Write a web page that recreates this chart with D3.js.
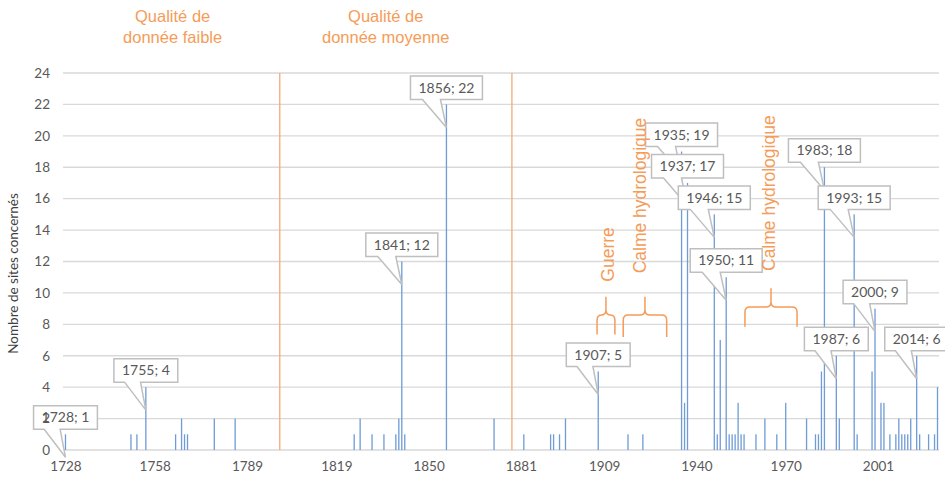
<!DOCTYPE html>
<html>
<head>
<meta charset="utf-8">
<script src="https://cdn.jsdelivr.net/npm/d3@7"></script>
<style>
  body { margin: 0; background: #fff; }
  svg { display: block; }
</style>
</head>
<body>
<div id="chart"></div>
<script>
// years with at least one site concerned, and the number of sites
const years = [1728,1750,1752,1755,1765,1767,1768,1769,1778,1785,
  1825,1827,1831,1835,1839,1840,1841,1842,1856,1872,
  1882,1891,1892,1894,1896,1907,1917,1922,1935,1936,1937,
  1946,1947,1948,1950,1951,1952,1953,1954,1955,1956,1960,1963,1967,1970,
  1977,1980,1981,1982,1983,1987,1988,1993,1994,1999,2000,2002,2003,
  2005,2007,2008,2009,2010,2011,2012,2014,2015,2018,2020,2021];
const sites = [1,1,1,4,1,2,1,1,2,2,
  1,2,1,1,1,2,12,1,22,2,
  1,1,1,1,2,5,1,1,19,3,17,
  15,1,7,11,1,1,1,3,1,1,1,2,1,3,
  2,1,1,5,18,6,2,15,1,5,9,3,3,
  1,1,2,1,1,1,2,6,1,1,1,4];

// bars that carry a callout label "year; value"
const labelled = [1728,1755,1841,1856,1907,1935,1937,1946,1950,1983,1987,1993,2000,2014];

const xTicks = [1728,1758,1789,1819,1850,1881,1909,1940,1970,2001];
const yTicks = [0,2,4,6,8,10,12,14,16,18,20,22,24];

// data quality limits (years)
const limits = [1800, 1878];
const qualityLabels = [
  {year: 1764, lines: ["Qualité de", "donnée faible"]},
  {year: 1835.6, lines: ["Qualité de", "donnée moyenne"]}
];
// braces and rotated notes, in year / value units
const braces = [
  {x0: 1906.6, x1: 1912.6, top: 9.75, mid: 8.6, bot: 7.35},
  {x0: 1915.4, x1: 1930, top: 9.75, mid: 8.6, bot: 7.2},
  {x0: 1956.3, x1: 1973.8, top: 10.3, mid: 9.1, bot: 7.85}
];
const notes = [
  {text: "Guerre", year: 1910.3, value: 12.45},
  {text: "Calme hydrologique", year: 1921, value: 16.2},
  {text: "Calme hydrologique", year: 1964.2, value: 16.35}
];

const data = years.map(function(y, i) { return {year: y, value: sites[i]}; });

const W = 945, H = 480;
const margin = {top: 73, right: 6, bottom: 30, left: 64};
const width = W - margin.left - margin.right;
const height = H - margin.top - margin.bottom;

const orange = "#f59c58";
const grey = "#595959";

const svg = d3.select("#chart").append("svg")
    .attr("width", W)
    .attr("height", H);

const chart = svg.append("g")
    .attr("transform", "translate(" + margin.left + "," + margin.top + ")");

const x = d3.scaleLinear()
    .domain([1727.5, 2021.5])
    .range([0, width]);

const y = d3.scaleLinear()
    .domain([0, 24])
    .range([height, 0]);

// gridlines
chart.append("g")
  .selectAll("line")
  .data(yTicks)
  .enter().append("line")
    .attr("x1", -1)
    .attr("x2", width)
    .attr("y1", function(d) { return y(d); })
    .attr("y2", function(d) { return y(d); })
    .attr("stroke", "#d9d9d9")
    .attr("stroke-width", 1.3);

// quality limits
chart.append("g")
  .selectAll("line")
  .data(limits)
  .enter().append("line")
    .attr("x1", function(d) { return x(d); })
    .attr("x2", function(d) { return x(d); })
    .attr("y1", y(24))
    .attr("y2", y(0))
    .attr("stroke", "#f7a872")
    .attr("stroke-width", 1.3);

// bars
chart.append("g")
  .selectAll("rect")
  .data(data)
  .enter().append("rect")
    .attr("x", function(d) { return x(d.year) - 0.65; })
    .attr("y", function(d) { return y(d.value); })
    .attr("width", 1.3)
    .attr("height", function(d) { return y(0) - y(d.value); })
    .attr("fill", "#6f9bd6");

// x axis labels
const xAxis = chart.append("g")
    .attr("transform", "translate(0," + height + ")")
    .call(d3.axisBottom(x).tickValues(xTicks).tickFormat(d3.format("d")).tickSize(0).tickPadding(11));
xAxis.select(".domain").remove();
xAxis.selectAll("text")
    .attr("font-family", "Lato, 'Open Sans', sans-serif")
    .attr("font-size", 13.5)
    .attr("fill", grey);

// callouts
const callouts = chart.append("g")
  .selectAll("g")
  .data(data.filter(function(d) { return labelled.indexOf(d.year) >= 0; }))
  .enter().append("g");

callouts.each(function(d) {
  const g = d3.select(this);
  const cx = x(d.year);
  const top = y(d.value);
  const t = g.append("text")
      .attr("x", cx)
      .attr("y", top - 5 - 11.75)
      .attr("dy", "0.35em")
      .attr("text-anchor", "middle")
      .attr("font-family", "Lato, 'Open Sans', sans-serif")
      .attr("font-size", 14)
      .attr("fill", grey)
      .text(d.year + "; " + d.value);
  const w = t.node().getComputedTextLength() + 16;
  const l = cx - w / 2, r = cx + w / 2;
  const b = top - 5, tp = b - 23.5;
  const tipY = top + 23;
  const p = d3.path();
  p.moveTo(l, tp);
  p.lineTo(r, tp);
  p.lineTo(r, b);
  p.lineTo(l + w * 5 / 12, b);
  p.lineTo(cx, tipY);
  p.lineTo(l + w * 2 / 12, b);
  p.lineTo(l, b);
  p.closePath();
  g.insert("path", "text")
      .attr("d", p.toString())
      .attr("fill", "#fff")
      .attr("stroke", "#bfbfbf")
      .attr("stroke-width", 1.5);
});

// y axis labels (drawn over the callouts, as in the original)
const yAxis = chart.append("g")
    .call(d3.axisLeft(y).tickValues(yTicks).tickSize(0).tickPadding(14));
yAxis.select(".domain").remove();
yAxis.selectAll("text")
    .attr("font-family", "Lato, 'Open Sans', sans-serif")
    .attr("font-size", 13.5)
    .attr("fill", grey);

chart.append("text")
    .attr("transform", "rotate(-90)")
    .attr("x", -(y(12) + 12))
    .attr("y", -46)
    .attr("text-anchor", "middle")
    .attr("font-family", "Lato, 'Open Sans', sans-serif")
    .attr("font-size", 13.5)
    .attr("fill", "#404040")
    .text("Nombre de sites concernés");

// quality labels above the plot
const ql = svg.append("g")
  .selectAll("text")
  .data(qualityLabels)
  .enter().append("text")
    .attr("text-anchor", "middle")
    .attr("font-family", "'Liberation Sans', Arial, sans-serif")
    .attr("font-size", 16.5)
    .attr("fill", orange);
ql.selectAll("tspan")
  .data(function(d) { return d.lines.map(function(s) { return {s: s, year: d.year}; }); })
  .enter().append("tspan")
    .attr("x", function(d) { return margin.left + x(d.year); })
    .attr("y", function(d, i) { return 22 + i * 21; })
    .text(function(d) { return d.s; });

// braces
chart.append("g")
  .selectAll("path")
  .data(braces)
  .enter().append("path")
    .attr("fill", "none")
    .attr("stroke", orange)
    .attr("stroke-width", 1.5)
    .attr("d", function(d) {
      const x0 = x(d.x0), x1 = x(d.x1), xm = (x0 + x1) / 2;
      const yt = y(d.top), ym = y(d.mid), yb = y(d.bot);
      const r = 5;
      const p = d3.path();
      p.moveTo(x0, yb);
      p.lineTo(x0, ym + r);
      p.quadraticCurveTo(x0, ym, x0 + r, ym);
      p.lineTo(xm - r, ym);
      p.quadraticCurveTo(xm, ym, xm, ym - r);
      p.lineTo(xm, yt);
      p.moveTo(xm, ym - r);
      p.quadraticCurveTo(xm, ym, xm + r, ym);
      p.lineTo(x1 - r, ym);
      p.quadraticCurveTo(x1, ym, x1, ym + r);
      p.lineTo(x1, yb);
      return p.toString();
    });

// rotated notes
chart.append("g")
  .selectAll("text")
  .data(notes)
  .enter().append("text")
    .attr("transform", function(d) {
      return "translate(" + x(d.year) + "," + y(d.value) + ") rotate(-90)";
    })
    .attr("text-anchor", "middle")
    .attr("dy", "0.35em")
    .attr("font-family", "'Liberation Sans', Arial, sans-serif")
    .attr("font-size", 17.5)
    .attr("fill", orange)
    .text(function(d) { return d.text; });
</script>
</body>
</html>
